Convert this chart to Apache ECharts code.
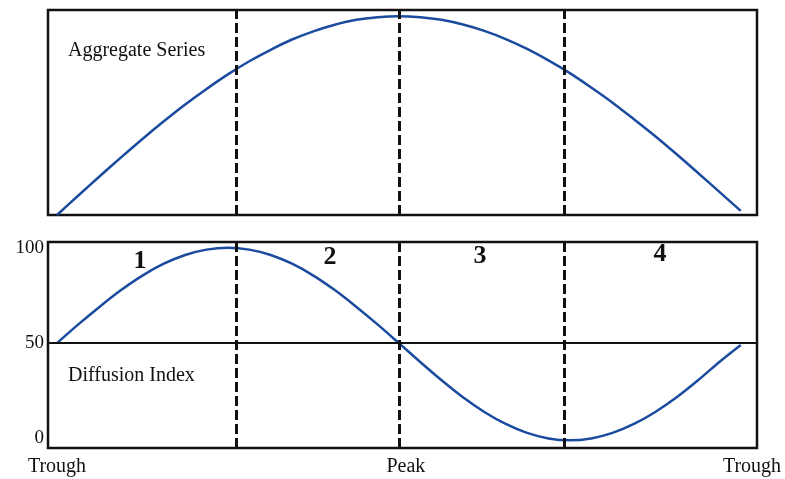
<!DOCTYPE html>
<html>
<head>
<meta charset="utf-8">
<script src="https://cdn.jsdelivr.net/npm/echarts@6/dist/echarts.min.js"></script>
<style>
  html, body { margin: 0; padding: 0; background: #fff; }
  #chart { width: 785px; height: 479px; }
</style>
</head>
<body>
<div id="chart"></div>
<script>
// phase of the cycle: 0 = trough, 4 = peak, 8 = trough
var phase = [0, 0.25, 0.5, 0.75, 1, 1.25, 1.5, 1.75, 2, 2.25, 2.5, 2.75, 3, 3.25, 3.5, 3.75,
             4, 4.25, 4.5, 4.75, 5, 5.25, 5.5, 5.75, 6, 6.25, 6.5, 6.75, 7, 7.25, 7.5, 7.75, 8];
var aggregate = [0, 9.5, 18.9, 28.1, 37.1, 45.7, 53.9, 61.5, 68.6, 75.0, 80.6, 85.6, 89.6, 92.8, 95.2, 96.5,
                 97, 96.5, 95.2, 92.9, 89.8, 85.8, 81.0, 75.4, 69.2, 62.2, 54.8, 46.7, 38.4, 29.6, 20.5, 11.3, 2];
var diffusion = [50, 59.8, 69.1, 77.8, 85.4, 91.6, 96.2, 99.0, 100, 99.0, 96.2, 91.6, 85.4, 77.8, 69.1, 59.8,
                 50, 40.1, 30.5, 21.6, 13.9, 7.6, 2.9, 0.0, -1, 0.0, 2.9, 7.6, 13.9, 21.6, 30.5, 40.1, 49];

// dashed stage boundaries
var boundaries = [2.1, 4, 5.94];
var X_MIN = -0.105;
var X_MAX = 8.19;

var xTickValues = [0, 4, X_MAX];
var xTickNames = ['Trough', 'Peak', 'Trough'];
var yTickValues = [0, 50, 100];
var stageNames = ['1', '2', '3', '4'];

var serif = "'Liberation Serif', 'DejaVu Serif', serif";
var curveColor = '#1b4b9f';

function pairs(xs, ys) {
    return xs.map(function (x, i) { return [x, ys[i]]; });
}

var dashLines = boundaries.map(function (b) { return { xAxis: b }; });

var dom = document.getElementById('chart');
var myChart = echarts.init(dom);

var option = {
    backgroundColor: '#fff',
    animation: false,
    grid: [
        { left: 48, right: 28, top: 10, height: 205, outerBoundsMode: 'none', show: true, borderColor: '#111', borderWidth: 2.5 },
        { left: 48, right: 28, top: 242, height: 206, outerBoundsMode: 'none', show: true, borderColor: '#111', borderWidth: 2.5 }
    ],
    xAxis: [
        { type: 'value', gridIndex: 0, min: X_MIN, max: X_MAX, show: false },
        {
            type: 'value', gridIndex: 1, min: X_MIN, max: X_MAX,
            axisLine: { show: false },
            axisTick: { show: false },
            splitLine: { show: false },
            axisLabel: {
                customValues: xTickValues,
                showMinLabel: true,
                showMaxLabel: true,
                margin: 9,
                color: '#111',
                fontFamily: serif,
                fontSize: 20,
                formatter: function (v) {
                    var i = xTickValues.indexOf(v);
                    if (i < 0) return '';
                    if (i === 1) return '{p|' + xTickNames[i] + '}';
                    if (i === 2) return '{r|' + xTickNames[i] + '}';
                    return xTickNames[i];
                },
                rich: {
                    p: { fontFamily: serif, fontSize: 20, color: '#111', padding: [0, 0, 0, 14] },
                    r: { fontFamily: serif, fontSize: 20, color: '#111', padding: [0, 10, 0, 0] }
                }
            }
        }
    ],
    yAxis: [
        { type: 'value', gridIndex: 0, min: 0, max: 100, show: false },
        {
            type: 'value', gridIndex: 1, min: -5, max: 103,
            axisLine: { show: false },
            axisTick: { show: false },
            splitLine: { show: false },
            axisLabel: {
                customValues: yTickValues,
                margin: 4,
                color: '#111',
                fontFamily: serif,
                fontSize: 19
            }
        }
    ],
    series: [
        {
            name: 'Aggregate Series',
            type: 'line',
            xAxisIndex: 0,
            yAxisIndex: 0,
            smooth: 0.3,
            showSymbol: false,
            lineStyle: { color: curveColor, width: 2.5 },
            data: pairs(phase, aggregate),
            markLine: {
                silent: true,
                symbol: 'none',
                label: { show: false },
                lineStyle: { color: '#111', width: 3, type: [10, 4] },
                data: dashLines
            }
        },
        {
            name: 'Diffusion Index',
            type: 'line',
            xAxisIndex: 1,
            yAxisIndex: 1,
            smooth: 0.3,
            showSymbol: false,
            lineStyle: { color: curveColor, width: 2.5 },
            data: pairs(phase, diffusion),
            markLine: {
                silent: true,
                symbol: 'none',
                label: { show: false },
                lineStyle: { color: '#111', width: 3, type: [10, 4] },
                data: dashLines.concat([
                    { yAxis: 50, lineStyle: { type: 'solid', width: 2.2 } }
                ])
            }
        }
    ],
    graphic: [
        { type: 'text', left: 68, top: 41, style: { text: 'Aggregate Series', font: '20px ' + serif, fill: '#111' } },
        { type: 'text', left: 68, top: 366, style: { text: 'Diffusion Index', font: '20px ' + serif, fill: '#111' } }
    ].concat(stageNames.map(function (s, i) {
        var xs = [140, 330, 480, 660];
        var ys = [261, 257, 256, 254];
        return {
            type: 'text', x: xs[i], y: ys[i],
            style: { text: s, font: 'bold 26px ' + serif, fill: '#111', align: 'center', verticalAlign: 'middle' }
        };
    }))
};

myChart.setOption(option);
</script>
</body>
</html>
